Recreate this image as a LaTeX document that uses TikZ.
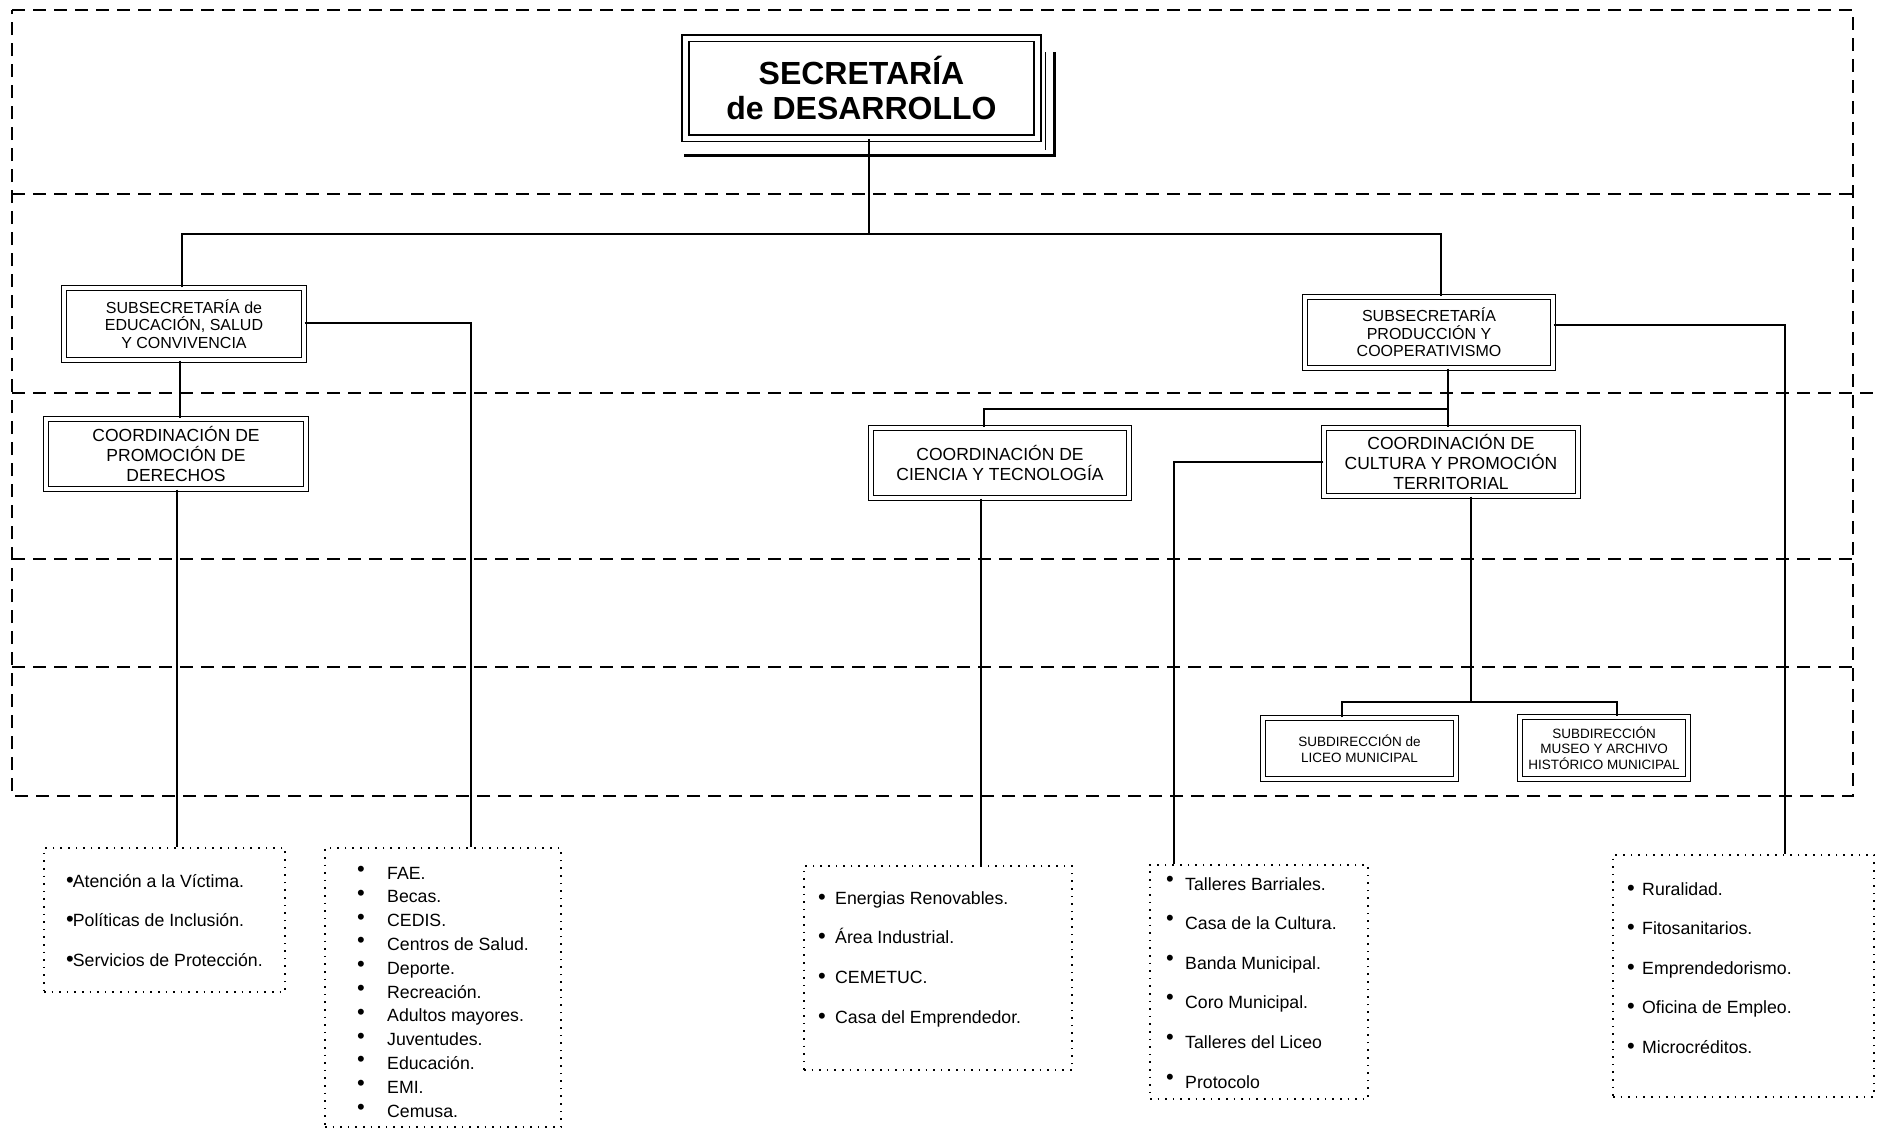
\documentclass[tikz,border=0pt]{standalone}
\usepackage{fontspec}
\setmainfont{Liberation Sans}
\begin{document}
\begin{tikzpicture}[x=1pt,y=-1pt,
  dashline/.style={line width=2.6pt, dash pattern=on 13pt off 8pt},
  conn/.style={line width=1.4pt},
  dbox/.style={draw, line width=1.4pt, double, double distance=3.5pt, inner sep=0pt, align=center},
  mainbox/.style={draw, line width=1.8pt, double, double distance=5pt, inner sep=0pt, align=center, font=\fontsize{32}{35}\selectfont\bfseries},
  subfont/.style={font=\fontsize{16}{17.5}\selectfont},
  coordfont/.style={font=\fontsize{17.5}{20}\selectfont},
  dirfont/.style={font=\fontsize{13.5}{15.5}\selectfont},
  listbox/.style={draw, line width=1.6pt, dash pattern=on 1.6pt off 6pt, inner sep=0pt},
  item/.style={inner sep=0pt, anchor=base west, font=\fontsize{17.7}{20}\selectfont}
]
\useasboundingbox (0,0) rectangle (1878,1130);

% dashed frame
\draw[dashline] (12,10) -- (1853,10) -- (1853,796) -- (12,796) -- cycle;
\draw[dashline] (12,194) -- (1853,194);
\draw[dashline] (12,393) -- (1874,393);
\draw[dashline] (12,559) -- (1853,559);
\draw[dashline] (12,667) -- (1853,667);

% main box with shadow
\draw[line width=3pt] (684,155) -- (1054,155) -- (1054,52);
\draw[line width=1pt] (1045,52) -- (1045,150);
\node[mainbox, minimum width=352pt, minimum height=100pt] (main) at (861.5,88) {SECRETARÍA\\de DESARROLLO};

% second level
\node[dbox, subfont, minimum width=240pt, minimum height=72pt] (subE) at (184,324) {SUBSECRETARÍA de\\EDUCACIÓN, SALUD\\Y CONVIVENCIA};
\node[dbox, subfont, minimum width=248pt, minimum height=71pt] (subP) at (1429,332.5) {SUBSECRETARÍA\\PRODUCCIÓN Y\\COOPERATIVISMO};

% third level
\node[dbox, coordfont, minimum width=260pt, minimum height=70pt] (cDer) at (176,454) {COORDINACIÓN DE\\PROMOCIÓN DE\\DERECHOS};
\node[dbox, coordfont, minimum width=258pt, minimum height=70pt] (cCie) at (1000,463) {COORDINACIÓN DE\\CIENCIA Y TECNOLOGÍA};
\node[dbox, coordfont, minimum width=254pt, minimum height=68pt] (cCul) at (1451,462) {COORDINACIÓN DE\\CULTURA Y PROMOCIÓN\\TERRITORIAL};

% subdirections
\node[dbox, dirfont, minimum width=193pt, minimum height=61pt] (liceo) at (1359.5,748.5) {SUBDIRECCIÓN de\\LICEO MUNICIPAL};
\node[dbox, dirfont, minimum width=168pt, minimum height=62pt] (museo) at (1604,748) {SUBDIRECCIÓN\\MUSEO Y ARCHIVO\\HISTÓRICO MUNICIPAL};

% list boxes
\node[listbox, minimum width=241pt, minimum height=144pt] (b1) at (164.5,920) {};
\node[listbox, minimum width=236pt, minimum height=279pt] (b2) at (443,987.5) {};
\node[listbox, minimum width=268pt, minimum height=204pt] (b3) at (938,968) {};
\node[listbox, minimum width=218pt, minimum height=234pt] (b4) at (1259,982) {};
\node[listbox, minimum width=261pt, minimum height=242pt] (b5) at (1743.5,976) {};

% list items
\newcommand{\bul}{{\fontsize{22}{22}\selectfont •}}
\foreach \t [count=\k from 0] in {Atención a la Víctima.,Políticas de Inclusión.,Servicios de Protección.}
  \node[item] (i1-\k) at (66,887+39.5*\k) {\bul\kern-1pt\t};
\foreach \t [count=\k from 0] in {FAE.,Becas.,CEDIS.,Centros de Salud.,Deporte.,Recreación.,Adultos mayores.,Juventudes.,Educación.,EMI.,Cemusa.}
  \node[item] (i2-\k) at (357,879+23.8*\k) {\makebox[30pt][l]{\raisebox{2.5pt}{\bul}}\t};
\foreach \t [count=\k from 0] in {Energias Renovables.,Área Industrial.,CEMETUC.,Casa del Emprendedor.}
  \node[item] (i3-\k) at (818,904+39.7*\k) {\makebox[17pt][l]{\bul}\t};
\foreach \t [count=\k from 0] in {Talleres Barriales.,Casa de la Cultura.,Banda Municipal.,Coro Municipal.,Talleres del Liceo,Protocolo}
  \node[item] (i4-\k) at (1166,890+39.6*\k) {\makebox[19pt][l]{\raisebox{4pt}{\bul}}\t};
\foreach \t [count=\k from 0] in {Ruralidad.,Fitosanitarios.,Emprendedorismo.,Oficina de Empleo.,Microcréditos.}
  \node[item] (i5-\k) at (1627,895+39.5*\k) {\makebox[15pt][l]{\bul}\t};

% connector coordinates
\coordinate (j0) at (869,234);
\coordinate (hL) at (182,234);
\coordinate (hR) at (1441,234);
\coordinate (vE) at (180,380);
\coordinate (vD) at (177,600);
\coordinate (tE) at (471,323);
\coordinate (jP) at (1448,409);
\coordinate (jC) at (984,409);
\coordinate (vC) at (981,600);
\coordinate (tC) at (1174,462);
\coordinate (jS) at (1471,702);
\coordinate (jSL) at (1342,702);
\coordinate (jSR) at (1617,702);
\coordinate (tP) at (1785,325);

% connectors
\draw[conn] (main.south -| j0) -- (j0);
\draw[conn] (subE.north -| hL) -- (hL) -- (hR) -- (subP.north -| hR);
\draw[conn] (subE.south -| vE) -- (cDer.north -| vE);
\draw[conn] (cDer.south -| vD) -- (b1.north -| vD);
\draw[conn] (subE.east |- tE) -- (tE) -- (b2.north -| tE);
\draw[conn] (subP.south -| jP) -- (cCul.north -| jP);
\draw[conn] (jP) -- (jC) -- (cCie.north -| jC);
\draw[conn] (cCie.south -| vC) -- (b3.north -| vC);
\draw[conn] (cCul.west |- tC) -- (tC) -- (b4.north -| tC);
\draw[conn] (cCul.south -| jS) -- (jS);
\draw[conn] (liceo.north -| jSL) -- (jSL) -- (jSR) -- (museo.north -| jSR);
\draw[conn] (subP.east |- tP) -- (tP) -- (b5.north -| tP);
\end{tikzpicture}
\end{document}
